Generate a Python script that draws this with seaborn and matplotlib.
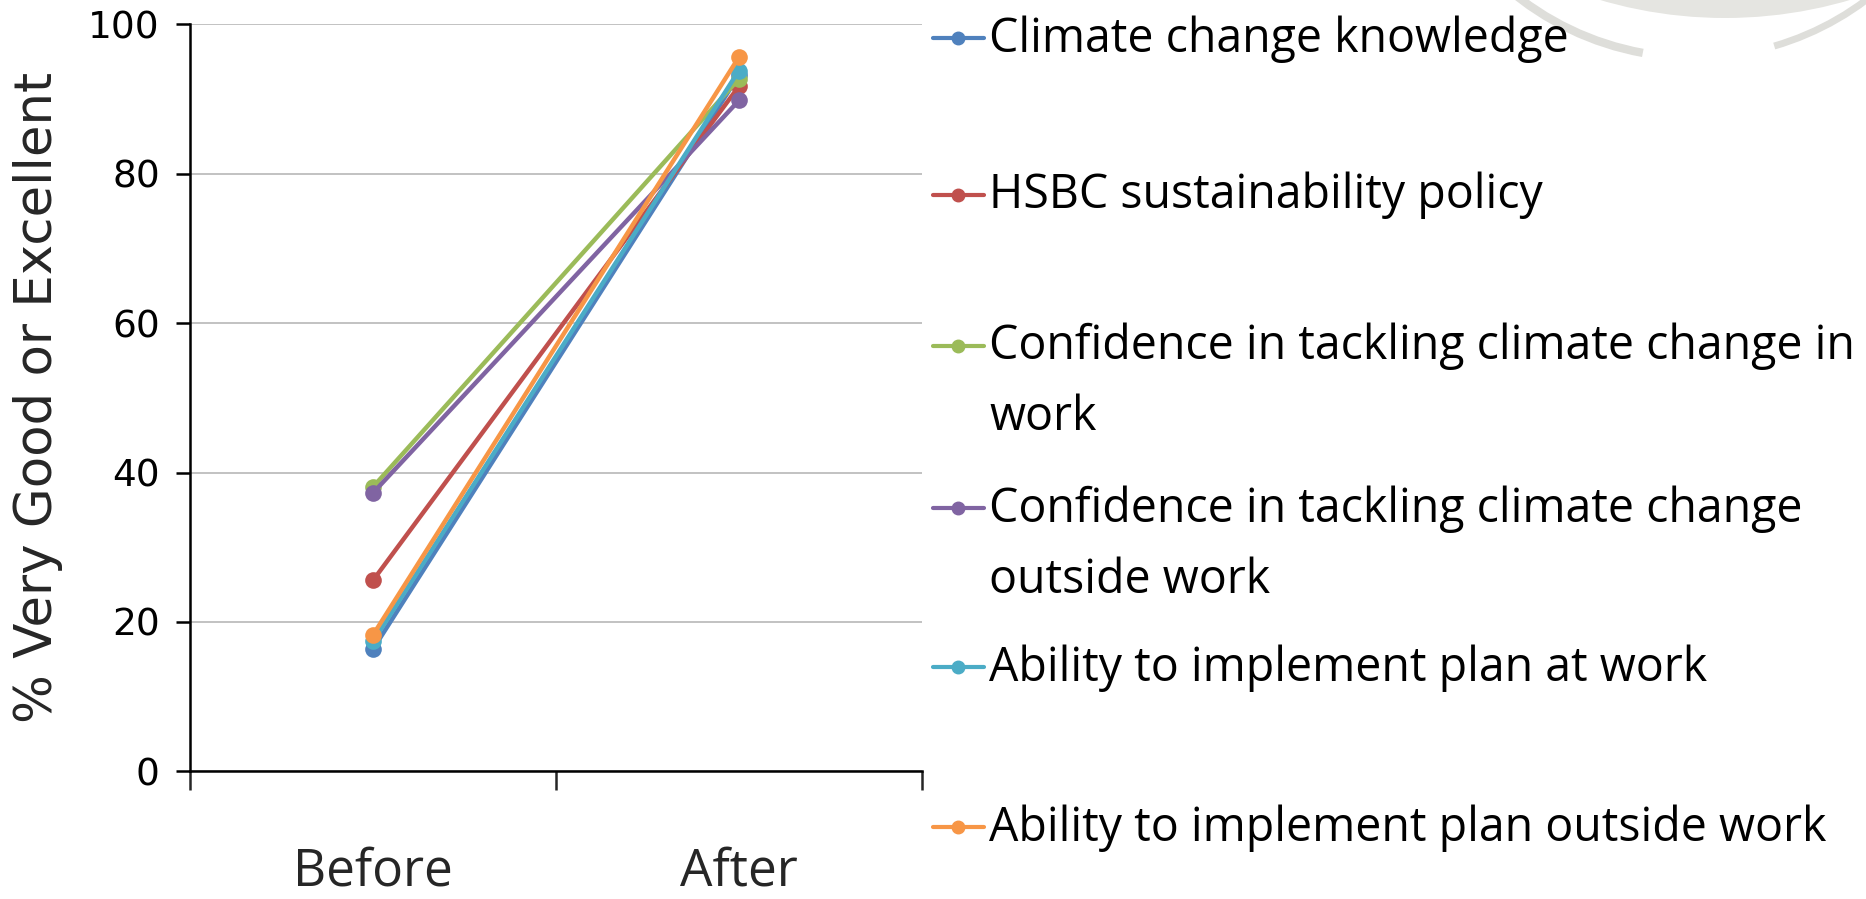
import matplotlib
matplotlib.use("Agg")
import matplotlib.pyplot as plt
from matplotlib.patches import Ellipse, Arc
import seaborn as sns
import pandas as pd

# data
periods = ["Before", "After"]
series = [
    "Climate change knowledge",
    "HSBC sustainability policy",
    "Confidence in tackling climate change in\nwork",
    "Confidence in tackling climate change\noutside work",
    "Ability to implement plan at work",
    "Ability to implement plan outside work",
]
before = [16.4, 25.6, 38.1, 37.3, 17.4, 18.3]
after = [93.2, 91.7, 92.7, 89.8, 93.8, 95.6]
colors = ["#4F81BD", "#C0504D", "#9BBB59", "#8064A2", "#4BACC6", "#F79646"]

rows = []
for s, b, a in zip(series, before, after):
    rows.append({"series": s, "period": periods[0], "value": b})
    rows.append({"series": s, "period": periods[1], "value": a})
df = pd.DataFrame(rows)
df["x"] = df["period"].map({p: i for i, p in enumerate(periods)})

sns.set_theme(style="white")
plt.rcParams["font.family"] = ["DejaVu Sans"]

fig = plt.figure(figsize=(18.66, 8.99), dpi=100)
ax = fig.add_axes([0.102, 0.142, 0.392, 0.831])
ax.set_zorder(2)
ax.patch.set_alpha(0)

# faint watermark swoosh in the top right corner
fig.patches.append(Ellipse((1725 / 1866, 1 + 425 / 899), 886 / 1866, 886 / 899,
                           transform=fig.transFigure, facecolor="#e5e5e1",
                           edgecolor="none", zorder=-1))
fig.patches.append(Arc((1694 / 1866, 1 + 229 / 899), 573 / 1866, 573 / 899,
                       theta1=215, theta2=265, transform=fig.transFigure,
                       color="#dededa", lw=6, zorder=-1))
fig.patches.append(Arc((1694 / 1866, 1 + 229 / 899), 573 / 1866, 573 / 899,
                       theta1=278, theta2=325, transform=fig.transFigure,
                       color="#dededa", lw=5, zorder=-1))

sns.lineplot(data=df, x="x", y="value", hue="series", palette=colors,
             marker="o", markersize=12, markeredgewidth=0, linewidth=3.2,
             legend=False, ax=ax, clip_on=False)

ax.set_xlim(-0.5, 1.5)
ax.set_ylim(0, 100)
ax.set_yticks(range(0, 101, 20))
ax.yaxis.grid(True, color="#b8b8b8", linewidth=1.2)
ax.set_axisbelow(True)
for side in ["top", "right"]:
    ax.spines[side].set_visible(False)
for side in ["left", "bottom"]:
    ax.spines[side].set_color("black")
    ax.spines[side].set_linewidth(1.8)

ax.tick_params(axis="y", left=True, length=10, width=1.8, labelsize=27,
               pad=12, direction="out", colors="black")
ax.set_xticks([-0.5, 0.5, 1.5])
ax.set_xticklabels([])
ax.tick_params(axis="x", which="major", bottom=True, length=14, width=1.8,
               direction="out")
ax.set_xticks([0, 1], minor=True)
ax.set_xticklabels(periods, minor=True,
                   fontdict={"family": ["Open Sans", "DejaVu Sans"], "size": 37})
ax.tick_params(axis="x", which="minor", bottom=False, pad=50)

ax.set_xlabel("")
ax.set_ylabel("% Very Good or Excellent", fontsize=37, labelpad=18)

# legend to the right, entries spaced evenly from the top like the original
tops = [0.981, 0.772, 0.570, 0.352, 0.139, -0.075]
for s, c, y in zip(series, colors, tops):
    ax.plot([1.015, 1.085], [y, y], transform=ax.transAxes, color=c,
            lw=3, clip_on=False)
    ax.plot([1.05], [y], transform=ax.transAxes, color=c, marker="o",
            markersize=9, clip_on=False)
    ax.text(1.092, y + 0.031, s, transform=ax.transAxes, fontsize=33.5,
            va="top", ha="left", linespacing=1.65,
            family=["Open Sans", "DejaVu Sans"], color="black")

fig.savefig("out.png", dpi=100, facecolor="white")
